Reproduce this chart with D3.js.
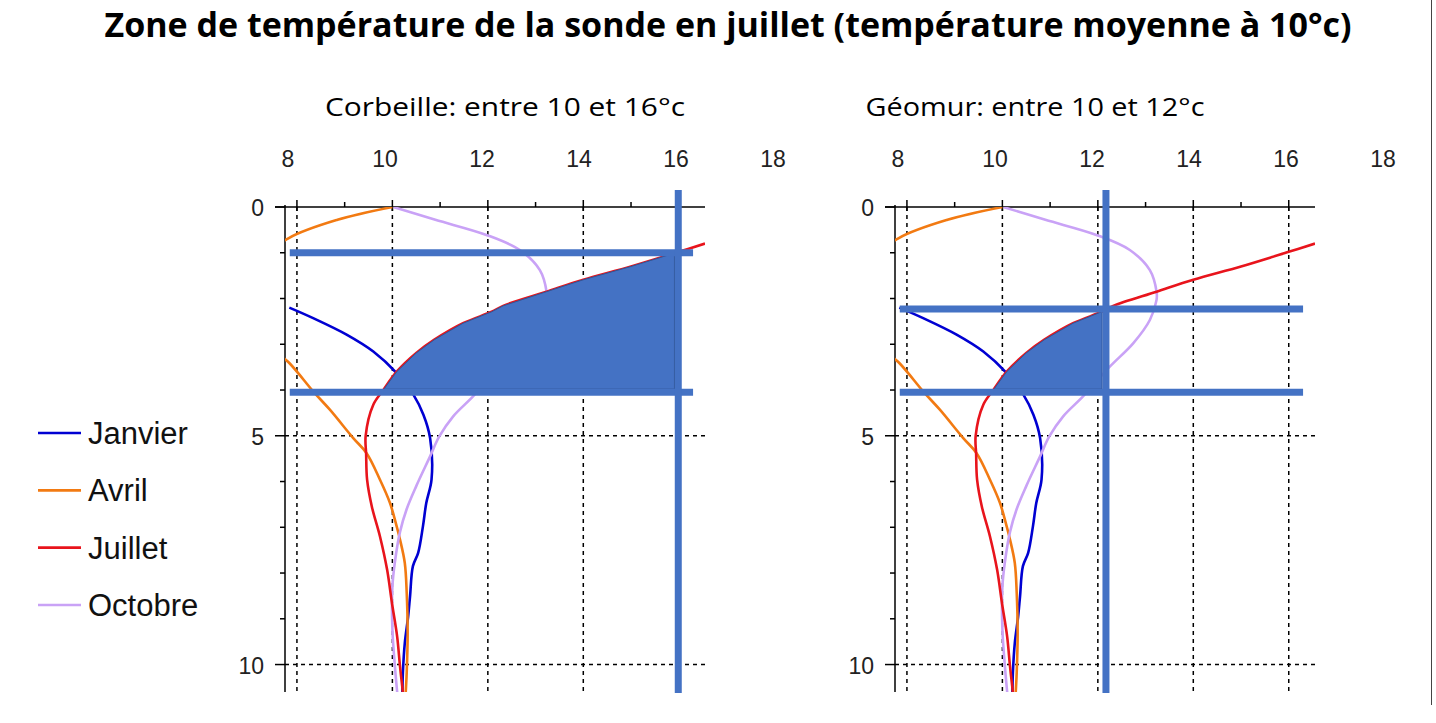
<!DOCTYPE html>
<html>
<head>
<meta charset="utf-8">
<script src="https://cdn.jsdelivr.net/npm/d3@7"></script>
<style>
body{margin:0;background:#fff;}
svg{display:block;}
</style>
</head>
<body>
<svg id="chart" width="1436" height="723"></svg>
<script>
// profils : [profondeur, température °c]
const janvier=[[2.2,7.84],[2.43,8.34],[2.79,9.04],[3.16,9.6],[3.63,10.09],[4.1,10.44],[4.54,10.65],[5.05,10.79],[5.96,10.82],[6.47,10.71],[6.98,10.64],[7.56,10.54],[7.85,10.43],[8.51,10.37],[8.95,10.33],[9.53,10.26],[10.18,10.22],[10.6,10.21]];
const avril=[[0,10.0],[0.28,8.85],[0.68,7.83],[1.2,7.2],[2.8,7.2],[3.41,7.84],[4.03,8.34],[4.43,8.69],[5.05,9.18],[5.38,9.46],[5.96,9.74],[6.47,9.95],[6.98,10.09],[7.27,10.16],[7.78,10.26],[8.43,10.3],[9.31,10.32],[10.18,10.3],[10.6,10.28]];
const juillet=[[0.8,16.55],[0.98,16.0],[1.3,15.0],[1.59,14.0],[1.85,13.23],[2.16,12.32],[2.29,12.08],[2.54,11.48],[2.9,10.88],[3.19,10.5],[3.6,10.09],[4.0,9.81],[4.32,9.6],[5.0,9.44],[5.4,9.45],[5.96,9.47],[6.55,9.57],[7.2,9.74],[7.93,9.89],[8.65,9.99],[9.39,10.1],[10.04,10.16],[10.6,10.22]];
const octobre=[[0,10.02],[0.28,10.9],[0.61,11.97],[0.94,12.67],[1.38,13.09],[1.85,13.23],[2.03,13.23],[2.47,13.09],[2.98,12.74],[3.49,12.25],[4.14,11.69],[4.58,11.27],[5.02,10.98],[5.45,10.79],[6.1,10.5],[6.6,10.3],[7.1,10.16],[7.78,10.05],[8.3,10.0],[9.23,10.0],[10.0,10.05],[10.6,10.1]];

const months=["Janvier","Avril","Juillet","Octobre"];
const xGrid=[8,10,12,14,16];
const xTickLabels=[8,10,12,14,16,18];
const yGrid=[5,10];
const yTickLabels=[0,5,10];

// zones de la sonde : profondeurs haute/basse et température limite
const panelNames=["Corbeille: entre 10 et 16°c","Géomur: entre 10 et 12°c"];
const zoneTop=[1.0,2.23];
const zoneBottom=[4.05,4.05];
const zoneMax=[15.99,12.17];

const colors={Janvier:"#0000d2",Avril:"#f27a12",Juillet:"#e8141c",Octobre:"#c9a2f6"};
const series={Janvier:janvier,Avril:avril,Juillet:juillet,Octobre:octobre};
const zoneColor="#4472c4";

const svg=d3.select("#chart");

svg.append("text")
  .attr("x",728).attr("y",37)
  .attr("text-anchor","middle")
  .attr("font-family","Open Sans, Noto Sans, sans-serif")
  .attr("font-weight","bold")
  .attr("font-size",34)
  .attr("textLength",1247).attr("lengthAdjust","spacingAndGlyphs")
  .text("Zone de température de la sonde en juillet (température moyenne à 10°c)");

// bord droit de la diapositive
svg.append("line").attr("x1",1431.5).attr("x2",1431.5).attr("y1",0).attr("y2",705)
  .attr("stroke","#444").attr("stroke-width",1);

function tempAt(depth){
  for(let i=1;i<juillet.length;i++){
    const a=juillet[i-1],b=juillet[i];
    if(depth>=a[0]&&depth<=b[0]){
      return a[1]+(b[1]-a[1])*(depth-a[0])/(b[0]-a[0]);
    }
  }
  return juillet[juillet.length-1][1];
}

function drawPanel(idx,ox){
  const x=d3.scaleLinear().domain([7.75,16.55]).range([ox+285,ox+705]);
  const y=d3.scaleLinear().domain([0,10.6]).range([207,692]);
  const labelX=d3.scaleLinear().domain([8,18]).range([ox+288,ox+773]);
  const g=svg.append("g");
  const [x0,x1]=x.range(), [y0,y1]=y.range();

  const clipId="clip"+idx;
  svg.append("defs").append("clipPath").attr("id",clipId)
    .append("rect").attr("x",x0).attr("y",y0).attr("width",x1-x0).attr("height",y1-y0);

  // sous-titre
  g.append("text")
    .attr("x",ox+(idx===0?505:425)).attr("y",116)
    .attr("text-anchor","middle")
    .attr("font-family","Open Sans, Noto Sans, sans-serif")
    .attr("font-size",25)
    .attr("textLength",idx===0?360:339).attr("lengthAdjust","spacingAndGlyphs")
    .text(panelNames[idx]);

  // graduations
  g.selectAll(".xl").data(xTickLabels).join("text")
    .attr("x",d=>labelX(d)).attr("y",167)
    .attr("text-anchor","middle")
    .attr("font-family","Liberation Sans, Arial, sans-serif")
    .attr("font-size",23).attr("fill","#222")
    .text(d=>d);
  g.selectAll(".yl").data(yTickLabels).join("text")
    .attr("x",x0-21).attr("y",d=>y(d)+9)
    .attr("text-anchor","end")
    .attr("font-family","Liberation Sans, Arial, sans-serif")
    .attr("font-size",23).attr("fill","#222")
    .text(d=>d);

  // grille pointillée
  g.selectAll(".vg").data(xGrid).join("line")
    .attr("x1",d=>x(d)).attr("x2",d=>x(d)).attr("y1",y0).attr("y2",y1)
    .attr("stroke","#000").attr("stroke-width",1.5).attr("stroke-dasharray","4,4");
  g.selectAll(".hg").data(yGrid).join("line")
    .attr("x1",x0).attr("x2",x1).attr("y1",d=>y(d)).attr("y2",d=>y(d))
    .attr("stroke","#000").attr("stroke-width",1.5).attr("stroke-dasharray","4,4");

  // axes
  g.append("line").attr("x1",x0-10).attr("x2",x1).attr("y1",y0).attr("y2",y0)
    .attr("stroke","#000").attr("stroke-width",1.5);
  g.append("line").attr("x1",x0).attr("x2",x0).attr("y1",y0-2).attr("y2",y1)
    .attr("stroke","#000").attr("stroke-width",1.5);
  g.selectAll(".xt").data(d3.range(8,17)).join("line")
    .attr("x1",d=>x(d)).attr("x2",d=>x(d))
    .attr("y1",d=>d%2===0?y0-7:y0-5).attr("y2",d=>d%2===0?y0+4:y0)
    .attr("stroke","#000").attr("stroke-width",1.5);
  g.selectAll(".yt").data(d3.range(0,11)).join("line")
    .attr("x1",d=>d%5===0?x0-10:x0-5).attr("x2",x0)
    .attr("y1",d=>y(d)).attr("y2",d=>y(d))
    .attr("stroke","#000").attr("stroke-width",1.5);

  const line=d3.line().x(d=>x(d[1])).y(d=>y(d[0])).curve(d3.curveCatmullRom.alpha(0.5));
  const curves=g.append("g").attr("clip-path","url(#"+clipId+")");
  ["Janvier","Avril","Octobre"].forEach(m=>{
    curves.append("path").datum(series[m]).attr("d",line)
      .attr("fill","none").attr("stroke",colors[m]).attr("stroke-width",2.6);
  });

  // zone de température
  const top=zoneTop[idx]+0.02, bot=zoneBottom[idx]-0.07, lim=zoneMax[idx]-0.08;
  const pts=[[bot,tempAt(bot)]]
    .concat(juillet.filter(d=>d[0]>top&&d[0]<bot).reverse())
    .concat([[top,tempAt(top)],[top,lim],[bot,lim]]);
  const area=d3.line().x(d=>x(Math.min(d[1],lim))).y(d=>y(d[0]));
  g.append("path").attr("d",area(pts)+"Z")
    .attr("fill",zoneColor).attr("stroke","#2f5597").attr("stroke-width",1);

  curves.append("path").datum(juillet).attr("d",line)
    .attr("fill","none").attr("stroke",colors.Juillet).attr("stroke-width",2.6);

  // bornes de la zone
  [zoneTop[idx],zoneBottom[idx]].forEach(d=>{
    g.append("line").attr("x1",x(7.85)).attr("x2",x(16.3)).attr("y1",y(d)).attr("y2",y(d))
      .attr("stroke",zoneColor).attr("stroke-width",7);
  });
  g.append("line").attr("x1",x(zoneMax[idx])).attr("x2",x(zoneMax[idx]))
    .attr("y1",y0-17).attr("y2",y1+1)
    .attr("stroke",zoneColor).attr("stroke-width",7);
}

drawPanel(0,0);
drawPanel(1,610);

// légende
const legend=svg.append("g");
const ly=d3.scalePoint().domain(months).range([433,605]);
months.forEach(m=>{
  legend.append("line").attr("x1",38).attr("x2",81).attr("y1",ly(m)).attr("y2",ly(m))
    .attr("stroke",colors[m]).attr("stroke-width",2.6);
  legend.append("text").attr("x",88).attr("y",ly(m)+11)
    .attr("font-family","Liberation Sans, Arial, sans-serif")
    .attr("font-size",31).attr("fill","#111")
    .text(m);
});
</script>
</body>
</html>
